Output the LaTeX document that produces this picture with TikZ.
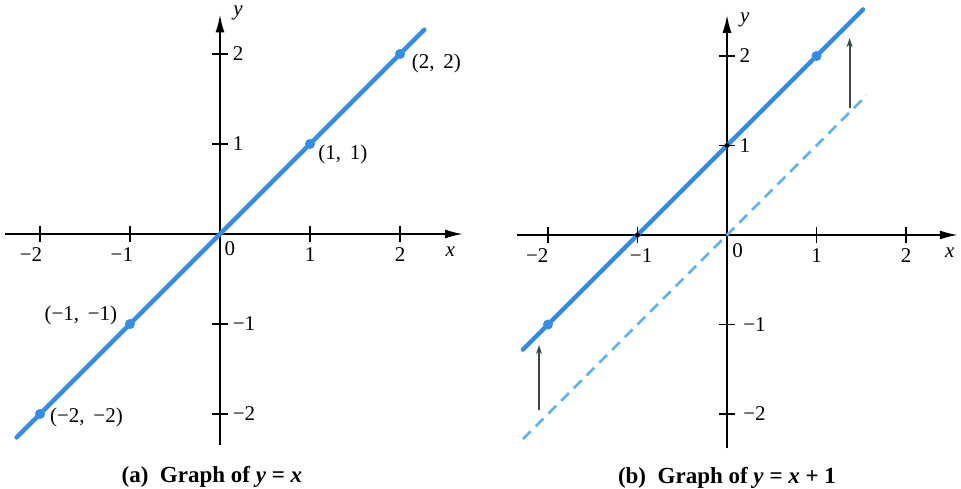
\documentclass[tikz,border=0pt]{standalone}
\usepackage{fontspec}
\setmainfont{Liberation Serif}
\usetikzlibrary{arrows.meta}
\definecolor{lineblue}{RGB}{52,140,228}
\definecolor{dashblue}{RGB}{95,178,240}
\definecolor{arrowgray}{RGB}{58,72,72}
\begin{document}
\begin{tikzpicture}[x=1pt,y=1pt,
  axis/.style={line width=1.9pt, black, -{Latex[length=18pt,width=9pt]}},
  tickmark/.style={line width=1.5pt, black},
  graphline/.style={line width=4.5pt, lineblue, line cap=round},
  dashline/.style={line width=2.8pt, dashblue, dash pattern=on 11pt off 7pt},
  dotpt/.style={circle, fill=lineblue, inner sep=0pt, minimum size=10pt},
  lbl/.style={font=\fontsize{21}{21}\selectfont, inner sep=0pt},
  ptlbl/.style={font=\fontsize{21}{21}\selectfont, inner sep=0pt},
  captext/.style={font=\fontsize{23}{23}\selectfont\bfseries, inner sep=0pt},
  shiftarrow/.style={line width=2pt, arrowgray, -{Stealth[length=9pt,width=6pt]}}]
\useasboundingbox (0,0) rectangle (961,488);

% ---------------- (a) y = x ----------------
\begin{scope}[shift={(220,254)}, x=90pt, y=90pt]
  \coordinate (LxA) at (-2.39,0); \coordinate (LxB) at (2.70,0);
  \coordinate (LyA) at (0,-2.34); \coordinate (LyB) at (0,2.44);
  \draw[axis] (LxA) -- (LxB);
  \draw[axis] (LyA) -- (LyB);
  \foreach \t in {-2,-1,1,2} {
    \draw[tickmark] (\t,-0.09) -- (\t,0.09);
    \draw[tickmark] (-0.09,\t) -- (0.09,\t);
  }
  \coordinate (LlA) at (-2.26,-2.26); \coordinate (LlB) at (2.27,2.27);
  \draw[graphline] (LlA) -- (LlB);
  \node[dotpt] (Lp22) at (2,2) {};
  \node[dotpt] (Lp11) at (1,1) {};
  \node[dotpt] (Lpm1) at (-1,-1) {};
  \node[dotpt] (Lpm2) at (-2,-2) {};
  \node[ptlbl, anchor=west] (Lt22) at (2.13,1.90) {(2,\, 2)};
  \node[ptlbl, anchor=west] (Lt11) at (1.09,0.88) {(1,\, 1)};
  \node[ptlbl, anchor=east] (Ltm1) at (-1.14,-0.90) {(−1,\, −1)};
  \node[ptlbl, anchor=west] (Ltm2) at (-1.89,-2.04) {(−2,\, −2)};
  % axis labels
  \node[lbl, anchor=base] (Lxm2) at (-2.1,-0.31) {−2};
  \node[lbl, anchor=base] (Lxm1) at (-1.09,-0.31) {−1};
  \node[lbl, anchor=base] (Lx1) at (1,-0.31) {1};
  \node[lbl, anchor=base] (Lx2) at (2,-0.31) {2};
  \node[lbl, anchor=west] (Ly2) at (0.14,2) {2};
  \node[lbl, anchor=west] (Ly1) at (0.14,1) {1};
  \node[lbl, anchor=west] (Lym1) at (0.14,-1) {−1};
  \node[lbl, anchor=west] (Lym2) at (0.14,-2) {−2};
  \node[lbl] (L0) at (0.11,-0.16) {0};
  \node[lbl] (Lxl) at (2.56,-0.2) {\textit{x}};
  \node[lbl] (Lyl) at (0.2,2.46) {\textit{y}};
  \node[captext] (Lcap) at (-0.09,-2.70) {(a)\enspace Graph of \textit{y} = \textit{x}};
\end{scope}

% ---------------- (b) y = x + 1 ----------------
\begin{scope}[shift={(727,253)}, x=89.5pt, y=89.5pt]
  \coordinate (RxA) at (-2.35,0); \coordinate (RxB) at (2.58,0);
  \coordinate (RyA) at (0,-2.38); \coordinate (RyB) at (0,2.46);
  \draw[axis] (RxA) -- (RxB);
  \draw[axis] (RyA) -- (RyB);
  \coordinate (RdA) at (-2.28,-2.28); \coordinate (RdB) at (1.56,1.56);
  \draw[dashline] (RdA) -- (RdB);
  \coordinate (RlA) at (-2.28,-1.28); \coordinate (RlB) at (1.52,2.52);
  \draw[graphline] (RlA) -- (RlB);
  \foreach \t in {-2,-1,1,2} {
    \draw[tickmark] (\t,-0.09) -- (\t,0.09);
    \draw[tickmark] (-0.09,\t) -- (0.09,\t);
  }
  \node[dotpt] (Rp12) at (1,2) {};
  \node[dotpt] (Rpm2) at (-2,-1) {};
  \fill[black] (0,1) circle (2.5pt);
  \fill[black] (-1,0) circle (2.5pt);
  \coordinate (RaA) at (1.37,1.42); \coordinate (RaB) at (1.37,2.20);
  \draw[shiftarrow] (RaA) -- (RaB);
  \coordinate (RbA) at (-2.10,-1.96); \coordinate (RbB) at (-2.10,-1.23);
  \draw[shiftarrow] (RbA) -- (RbB);
  % axis labels
  \node[lbl, anchor=base] (Rxm2) at (-2.12,-0.31) {−2};
  \node[lbl, anchor=base] (Rxm1) at (-0.96,-0.31) {−1};
  \node[lbl, anchor=base] (Rx1) at (1,-0.31) {1};
  \node[lbl, anchor=base] (Rx2) at (2,-0.31) {2};
  \node[lbl, anchor=west] (Ry2) at (0.14,2) {2};
  \node[lbl, anchor=west] (Ry1) at (0.14,1) {1};
  \node[lbl, anchor=west] (Rym1) at (0.18,-1) {−1};
  \node[lbl, anchor=west] (Rym2) at (0.18,-2) {−2};
  \node[lbl] (R0) at (0.12,-0.17) {0};
  \node[lbl] (Rxl) at (2.49,-0.2) {\textit{x}};
  \node[lbl] (Ryl) at (0.2,2.40) {\textit{y}};
  \node[captext] (Rcap) at (0,-2.71) {(b)\enspace Graph of \textit{y} = \textit{x} + 1};
\end{scope}
\end{tikzpicture}
\end{document}
